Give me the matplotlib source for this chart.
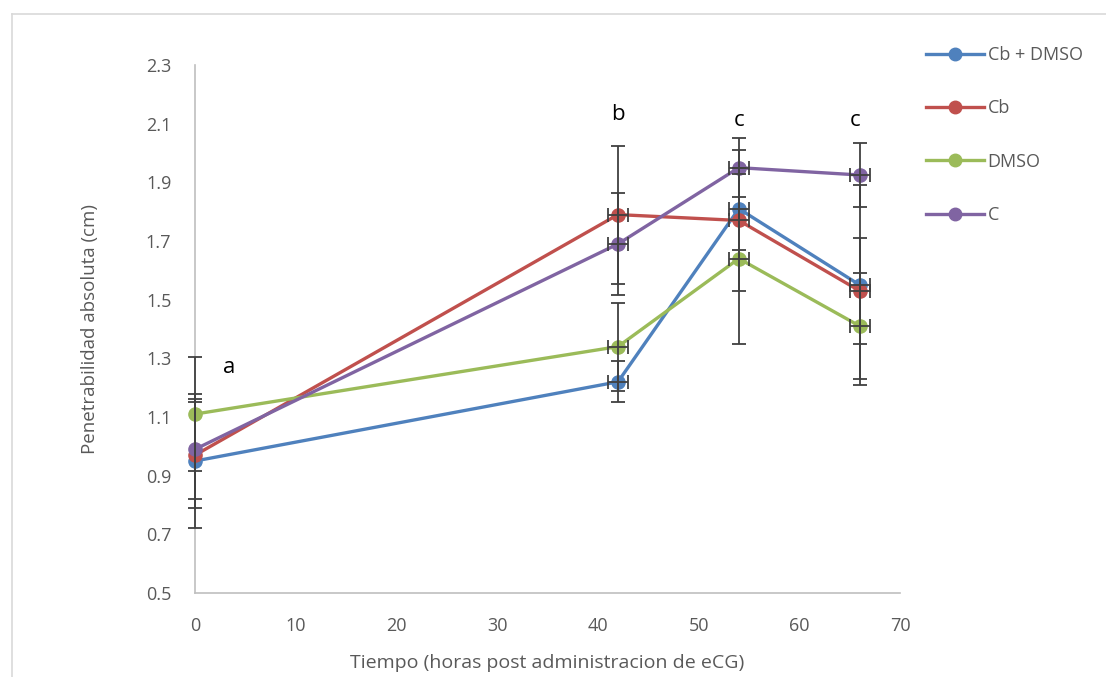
import numpy as np
import matplotlib.pyplot as plt
from matplotlib.lines import Line2D

horas = [0, 42, 54, 66]
series = ['Cb + DMSO', 'Cb', 'DMSO', 'C']
colores = ['#4F81BD', '#C0504D', '#9BBB59', '#8064A2']

cb_dmso = [0.95, 1.22, 1.81, 1.55]
cb = [0.97, 1.79, 1.77, 1.53]
dmso = [1.11, 1.34, 1.64, 1.41]
control = [0.99, 1.69, 1.95, 1.925]

err_cb_dmso = [0.23, 0.07, 0.14, 0.34]
err_cb = [0.18, 0.235, 0.24, 0.18]
err_dmso = [0.195, 0.15, 0.29, 0.18]
err_control = [0.17, 0.175, 0.10, 0.11]
xerr = [0, 1.0, 1.0, 1.0]

letras = ['a', 'b', 'c', 'c']
letras_x = [3.4, 42, 54, 65.5]
letras_y = [1.27, 2.13, 2.11, 2.11]

valores = [cb_dmso, cb, dmso, control]
errores = [err_cb_dmso, err_cb, err_dmso, err_control]

plt.rcParams['font.family'] = ['Open Sans', 'DejaVu Sans']
gris = '#595959'

fig = plt.figure(figsize=(11.06, 6.77), dpi=100)
ax = fig.add_axes([195/1106, 1-593/677, 705/1106, 528/677])

for v, c, s in zip(valores, colores, series):
    ax.plot(horas, v, '-o', color=c, lw=2.4, ms=9.5, label=s, zorder=3, clip_on=False)
for v, e in zip(valores, errores):
    ax.errorbar(horas, v, yerr=e, xerr=xerr, fmt='none', ecolor='#404040',
                elinewidth=1.3, capsize=5, capthick=1.3, zorder=4, clip_on=False)

for t, x, y in zip(letras, letras_x, letras_y):
    ax.text(x, y, t, fontsize=16, ha='center', va='center', color='black')

ax.set_xlim(0, 70)
ax.set_ylim(0.5, 2.3)
ax.set_xticks(np.arange(0, 71, 10))
ax.set_yticks(np.arange(0.5, 2.31, 0.2))
ax.set_yticklabels(['%.1f' % t for t in np.arange(0.5, 2.31, 0.2)])
ax.tick_params(length=0, labelsize=13, labelcolor=gris)
ax.tick_params(axis='y', pad=17)
ax.tick_params(axis='x', pad=17)
for s in ['top', 'right']:
    ax.spines[s].set_visible(False)
for s in ['left', 'bottom']:
    ax.spines[s].set_color('#BFBFBF')
    ax.spines[s].set_linewidth(1.2)
ax.set_xlabel('Tiempo (horas post administracion de eCG)', fontsize=14, color=gris, labelpad=14)
ax.set_ylabel('Penetrabilidad absoluta (cm)', fontsize=13.5, color=gris, labelpad=34)

handles = [Line2D([0], [0], color=c, lw=2.4, marker='o', ms=9) for c in colores]
ax.legend(handles, series, loc='upper left', bbox_to_anchor=(910/1106, 1-30/677),
          bbox_transform=fig.transFigure, frameon=False, fontsize=13,
          labelspacing=1.95, handlelength=3.2, handletextpad=0.2, labelcolor=gris)

fig.add_artist(Line2D([12/1106, 1], [1-14/677, 1-14/677], color='#D9D9D9', lw=1.2,
                      transform=fig.transFigure))
fig.add_artist(Line2D([12/1106, 12/1106], [0, 1-14/677], color='#D9D9D9', lw=1.2,
                      transform=fig.transFigure))

fig.savefig('out.png', dpi=100)
